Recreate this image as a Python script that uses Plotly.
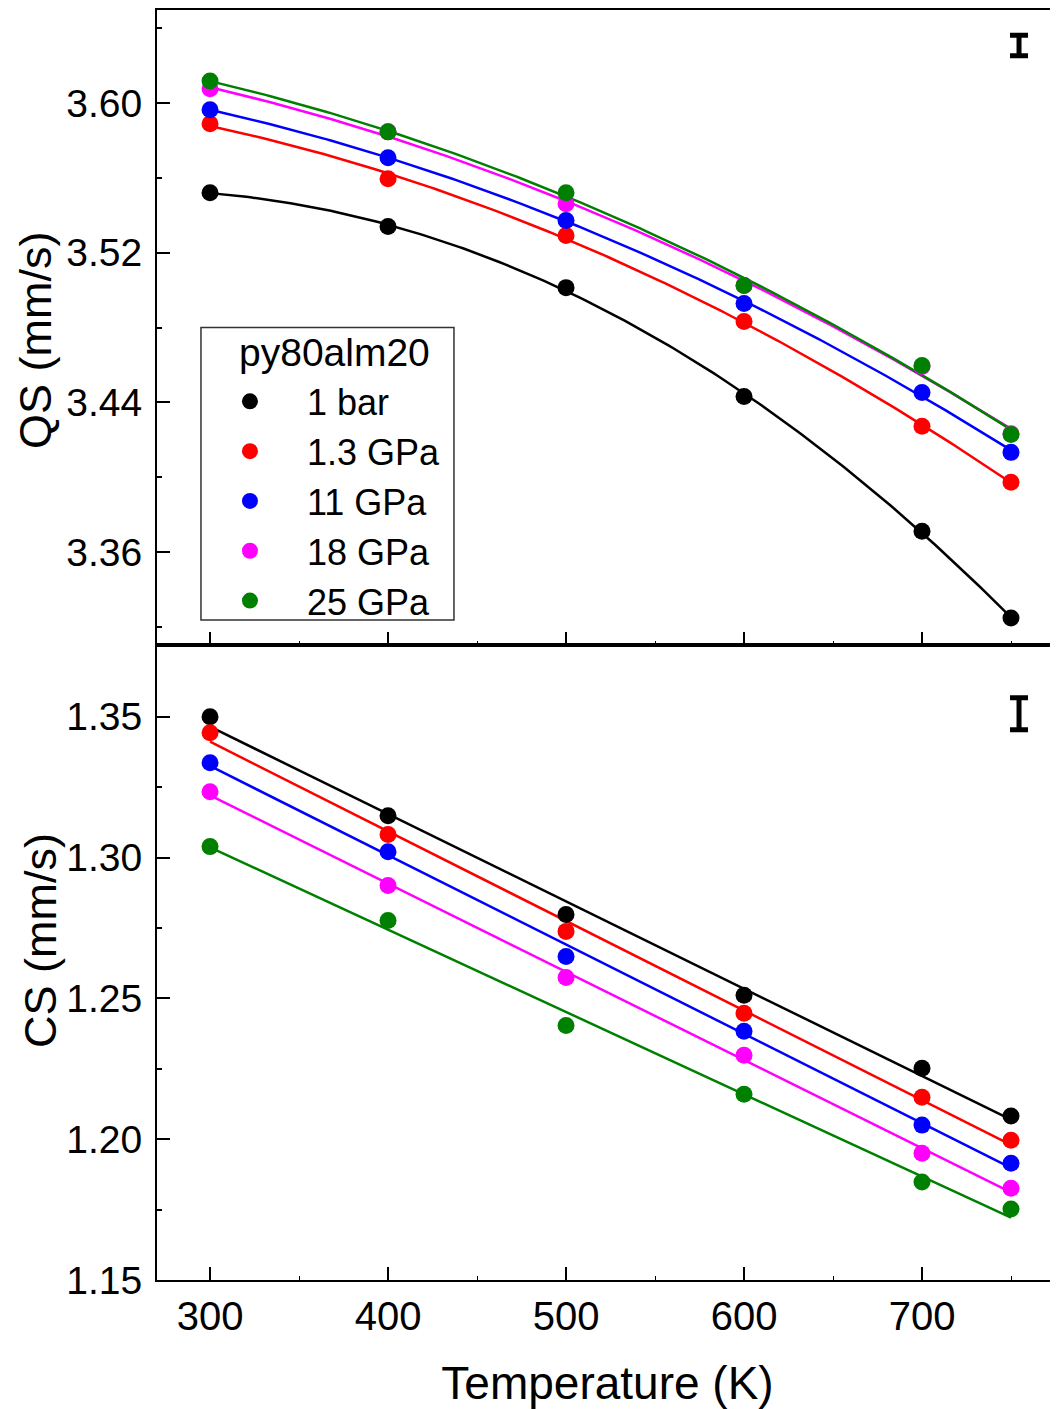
import numpy as np
import plotly.graph_objects as go
from plotly.subplots import make_subplots

temps = [300, 400, 500, 600, 700, 750]
series_names = ["1 bar", "1.3 GPa", "11 GPa", "18 GPa", "25 GPa"]
colors = ["#000000", "#FF0000", "#0000FF", "#FF00FF", "#008000"]

qs_1bar = [3.552, 3.5339, 3.5013, 3.4432, 3.3712, 3.3248]
qs_1p3 = [3.5888, 3.5595, 3.5291, 3.4832, 3.4272, 3.3973]
qs_11 = [3.5963, 3.5707, 3.5371, 3.4928, 3.4453, 3.4133]
qs_18 = [3.6075, 3.5845, 3.5461, 3.5024, 3.4592, 3.4232]
qs_25 = [3.6117, 3.5845, 3.5520, 3.5024, 3.4597, 3.4229]

cs_1bar = [1.3500, 1.3149, 1.2798, 1.2511, 1.2252, 1.2082]
cs_1p3 = [1.3443, 1.3082, 1.2738, 1.2447, 1.2149, 1.1996]
cs_11 = [1.3337, 1.3021, 1.2649, 1.2383, 1.2050, 1.1915]
cs_18 = [1.3234, 1.2901, 1.2574, 1.2298, 1.1950, 1.1826]
cs_25 = [1.3039, 1.2777, 1.2404, 1.2160, 1.1848, 1.1752]

qs_all = [qs_1bar, qs_1p3, qs_11, qs_18, qs_25]
cs_all = [cs_1bar, cs_1p3, cs_11, cs_18, cs_25]

legend_title = "py80alm20"

# representative uncertainty markers (top-right of each panel)
err_x = [754.5]
qs_err_y = [3.6306]
qs_err = [0.0055]
cs_err_y = [1.3511]
cs_err = [0.0057]

FONT = "Liberation Sans, Arial, sans-serif"

fig = make_subplots(rows=2, cols=1, shared_xaxes=True, vertical_spacing=0)

tfit = np.linspace(300, 750, 200)
for i, (name, col) in enumerate(zip(series_names, colors)):
    deg = 3 if i == 0 else 2
    pq = np.polyfit(temps, qs_all[i], deg)
    fig.add_trace(go.Scatter(x=tfit, y=np.polyval(pq, tfit), mode="lines",
                             line=dict(color=col, width=2.5), showlegend=False,
                             hoverinfo="skip"), row=1, col=1)
    pc = np.polyfit(temps, cs_all[i], 1)
    fig.add_trace(go.Scatter(x=tfit, y=np.polyval(pc, tfit), mode="lines",
                             line=dict(color=col, width=2.5), showlegend=False,
                             hoverinfo="skip"), row=2, col=1)

for i, (name, col) in enumerate(zip(series_names, colors)):
    fig.add_trace(go.Scatter(x=temps, y=qs_all[i], mode="markers", name=name,
                             marker=dict(color=col, size=17)),
                  row=1, col=1)
    fig.add_trace(go.Scatter(x=temps, y=cs_all[i], mode="markers", name=name,
                             marker=dict(color=col, size=17),
                             showlegend=False), row=2, col=1)

for yv, ev, r in [(qs_err_y, qs_err, 1), (cs_err_y, cs_err, 2)]:
    fig.add_trace(go.Scatter(x=err_x, y=yv, mode="markers",
                             marker=dict(size=1, color="rgba(0,0,0,0)"),
                             error_y=dict(type="data", array=ev, visible=True,
                                          color="black", thickness=5, width=9),
                             showlegend=False, hoverinfo="skip"), row=r, col=1)

xcommon = dict(range=[270.2, 776.4], tick0=300, dtick=100, ticks="inside",
               ticklen=13, tickwidth=2, tickcolor="black", showline=True,
               linecolor="black", linewidth=2, mirror=True, showgrid=False,
               zeroline=False,
               minor=dict(ticks="inside", ticklen=4, dtick=50, tick0=300,
                          tickcolor="black", tickwidth=1))
fig.update_xaxes(**xcommon)
fig.update_xaxes(showticklabels=False, row=1, col=1)
fig.update_xaxes(tickfont=dict(size=40, color="black", family=FONT),
                 title=dict(text="Temperature (K)",
                            font=dict(size=46, color="black", family=FONT),
                            standoff=37),
                 row=2, col=1)

ycommon = dict(ticks="inside", ticklen=13, tickwidth=2, tickcolor="black",
               showline=True, linecolor="black", linewidth=2, mirror=False,
               showgrid=False, zeroline=False, ticklabelstandoff=5,
               tickfont=dict(size=39, color="black", family=FONT))
fig.update_yaxes(**ycommon)
fig.update_yaxes(range=[3.3104, 3.6496], tick0=3.36, dtick=0.08,
                 tickformat=".2f",
                 minor=dict(ticks="inside", ticklen=5, dtick=0.04, tick0=3.36,
                            tickcolor="black", tickwidth=1.5),
                 row=1, col=1)
fig.update_yaxes(range=[1.15, 1.3755], tick0=1.15, dtick=0.05,
                 tickformat=".2f",
                 minor=dict(ticks="inside", ticklen=5, dtick=0.025, tick0=1.15,
                            tickcolor="black", tickwidth=1.5),
                 row=2, col=1)

# axis titles (placed as annotations for exact positioning)
fig.add_annotation(text="QS (mm/s)", xref="paper", yref="paper",
                   x=-0.1343, y=0.7402, xanchor="center", yanchor="middle",
                   textangle=-90, showarrow=False,
                   font=dict(size=45, color="black", family=FONT))
fig.add_annotation(text="CS (mm/s)", xref="paper", yref="paper",
                   x=-0.1300, y=0.2677, xanchor="center", yanchor="middle",
                   textangle=-90, showarrow=False,
                   font=dict(size=45, color="black", family=FONT))

# legend frame and title
fig.add_shape(type="rect", xref="paper", yref="paper",
              x0=0.0488, x1=0.3296, y0=0.5197, y1=0.75,
              line=dict(color="#333333", width=1.5), fillcolor="white",
              layer="below")
fig.add_annotation(text=legend_title, xref="paper", yref="paper",
                   x=0.0888, y=0.7300, xanchor="left", yanchor="middle",
                   showarrow=False,
                   font=dict(size=39, color="black", family=FONT))

fig.update_layout(
    width=1050, height=1401,
    margin=dict(l=149, r=0, t=0, b=129),
    paper_bgcolor="white", plot_bgcolor="white",
    font=dict(family=FONT, color="black"),
    legend=dict(x=0.0399, y=0.7154, xanchor="left", yanchor="top",
                bgcolor="rgba(0,0,0,0)", borderwidth=0,
                font=dict(size=36, color="black", family=FONT),
                itemwidth=104),
    showlegend=True,
)

fig.write_html("out.html")
